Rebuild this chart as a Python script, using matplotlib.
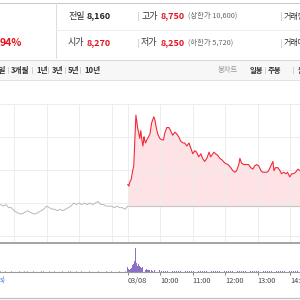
import matplotlib
matplotlib.use('Agg')
import matplotlib.pyplot as plt
from matplotlib.lines import Line2D
from matplotlib.patches import Rectangle
import numpy as np

plt.rcParams['font.family'] = ['Noto Sans CJK KR', 'DejaVu Sans']

# ---- data ----
prev_close = 8160

# previous session, 5 minute closes 11:35 .. 15:30 (minutes relative to today's 09:00)
prev_min = list(range(-235, 1, 5))
prev_price = [8170, 8160, 8170, 8150, 8150, 8130, 8120, 8110, 8110, 8120,
              8130, 8120, 8110, 8110, 8120, 8130, 8140, 8160, 8150, 8140,
              8140, 8130, 8140, 8130, 8140, 8150, 8160, 8180, 8170, 8180,
              8170, 8180, 8170, 8180, 8170, 8180, 8190, 8170, 8170, 8160,
              8160, 8160, 8150, 8160, 8150, 8150, 8140, 8160]

# today (03/08), minutes after 09:00
today_min = [0, 2, 4, 6, 7, 9, 11, 13, 15, 17,
             18, 20, 22, 24, 26, 28, 30, 31, 33, 35,
             37, 41, 44, 48, 50, 52, 55, 59, 63, 66,
             68, 72, 76, 79, 83, 87, 90, 94, 98, 102,
             105, 109, 113, 116, 120, 124, 127, 131, 135, 138,
             142, 146, 150, 153, 155, 159, 162, 166, 170, 174,
             179, 185, 190, 194, 198, 201, 205, 207, 210, 214,
             218, 223, 227, 231, 234, 238, 242, 246, 249, 253,
             257, 260, 264, 268, 270, 273, 277, 281, 284, 288,
             292, 295, 299, 303, 306, 310, 314, 318]
today_price = [8300, 8290, 8320, 8330, 8350, 8390, 8420, 8590, 8750, 8700,
               8670, 8640, 8600, 8650, 8590, 8550, 8610, 8590, 8570, 8590,
               8600, 8630, 8700, 8740, 8720, 8680, 8630, 8600, 8590, 8590,
               8630, 8670, 8670, 8650, 8620, 8640, 8630, 8610, 8580, 8570,
               8570, 8550, 8570, 8540, 8500, 8520, 8510, 8480, 8500, 8470,
               8450, 8470, 8510, 8480, 8490, 8510, 8500, 8490, 8470, 8460,
               8440, 8430, 8410, 8390, 8380, 8390, 8430, 8470, 8440, 8430,
               8430, 8430, 8410, 8400, 8420, 8430, 8420, 8390, 8380, 8380,
               8380, 8390, 8420, 8450, 8390, 8410, 8410, 8390, 8370, 8380,
               8370, 8380, 8350, 8370, 8370, 8380, 8400, 8390]

vol_prev = [3, 2, 4, 2, 3, 2, 2, 3, 2, 4, 3, 2, 3, 2, 2, 3, 4, 2, 3, 2, 3, 2, 2, 3,
            2, 4, 3, 2, 3, 2, 3, 2, 2, 3, 2, 2, 3, 2, 2, 3, 2, 3, 2, 2, 3, 2, 4, 6]
vol_min = list(range(0, 29)) + [30, 32, 34, 36, 38, 40, 43, 46, 50] + list(range(54, 319, 4))
vol_today = [20, 10, 14, 8, 18, 12, 22, 16, 28, 20, 34, 26, 40, 45, 100, 60, 38, 30, 24, 32,
             20, 26, 16, 22, 14, 18, 12, 20, 10,
             12, 9, 14, 8, 10, 7, 9, 6, 8,
             5, 7, 4, 6, 3, 5, 4, 6, 3, 4, 5, 3, 6, 4, 3, 5, 4, 3, 4, 6,
             3, 4, 3, 5, 4, 3, 4, 3, 5, 3, 4, 3, 6, 4, 3, 4, 3, 5, 3, 4,
             3, 4, 3, 5, 4, 3, 4, 3, 4, 5, 3, 4, 3, 4, 3, 5, 4, 3, 4, 3,
             4, 3, 5, 4, 3, 4, 5]

time_ticks = [0, 60, 120, 180, 240, 300]
time_labels = ["03/08", "10:00", "11:00", "12:00", "13:00", "14:00"]
grid_min = [-210, -150, -90, -30, 0, 60, 120, 180, 240, 300]
grid_price = [7966, 8179, 8393, 8607, 8821]

RED = '#e3141f'
W = 300.0


def fx(x):
    return x / W


def fy(y):
    return 1 - y / W


def hline(y, x0, x1, color, lw=0.7):
    fig.add_artist(Line2D([fx(x0), fx(x1)], [fy(y), fy(y)], color=color, lw=lw,
                          transform=fig.transFigure))


def vline(x, y0, y1, color, lw=0.7):
    fig.add_artist(Line2D([fx(x), fx(x)], [fy(y0), fy(y1)], color=color, lw=lw,
                          transform=fig.transFigure))


def txt(x, y, s, size=6.5, color='#222222', weight='normal', ha='left'):
    fig.text(fx(x), fy(y), s, fontsize=size, color=color, weight=weight,
             ha=ha, va='center')


fig = plt.figure(figsize=(3, 3), dpi=100)
fig.patch.set_facecolor('white')

# ---- header ----
hline(2.5, 0, 300, '#c8c8c8')
vline(55.5, 3, 58, '#dddddd')
hline(29.5, 56, 300, '#eeeeee')
txt(0, 43, "94%", size=7.5, color=RED, weight='bold')

txt(68, 16, "전일", color='#333333')
txt(87, 16, "8,160", weight='bold')
txt(68, 43, "시가", color='#333333')
txt(87, 43, "8,270", color=RED, weight='bold')

for yy in (16, 43):
    vline(137.5, yy - 4, yy + 4, '#d5d5d5')
    vline(280.5, yy - 4, yy + 4, '#d5d5d5')
txt(141, 16, "고가", color='#333333')
txt(161, 16, "8,750", color=RED, weight='bold')
txt(188, 16, "(상한가 10,600)", size=5.3, color='#666666')
txt(141, 43, "저가", color='#333333')
txt(161, 43, "8,250", color=RED, weight='bold')
txt(188, 43, "(하한가 5,720)", size=5.3, color='#666666')
txt(284, 16, "거래량", size=5.8, color='#333333')
txt(284, 43, "거래대금", size=5.8, color='#333333')

# ---- period / chart-type band ----
fig.add_artist(Rectangle((0, fy(80)), 1, (80 - 60) / W, transform=fig.transFigure,
                         facecolor='#f7f7f7', edgecolor='none'))
hline(60, 0, 300, '#d8d8d8')
hline(80, 0, 300, '#e2e2e2')
txt(6, 70, "1주일", size=5.5, color='#333333', weight='bold', ha='right')
for x, s in [(11, "3개월"), (36, "1년"), (52, "3년"), (68, "5년"), (84, "10년")]:
    txt(x, 70, s, size=5.5, color='#333333', weight='bold')
for x in (8, 32, 48, 65, 80):
    vline(x, 67, 73, '#d0d0d0')
txt(218, 70, "봉차트", size=5.3, color='#9a9a9a')
txt(250, 70, "일봉", size=5.3, color='#333333', weight='bold')
txt(268, 70, "주봉", size=5.3, color='#333333', weight='bold')
txt(298, 70, "월봉", size=5.3, color='#333333', weight='bold')
vline(265, 67, 73, '#d0d0d0')
vline(293, 67, 73, '#d0d0d0')

# ---- price chart ----
ax = fig.add_axes([0, fy(242), 1, (242 - 104) / W])
ax.set_facecolor('none')
ax.set_xlim(-236, 318)
ax.set_ylim(7927, 8823)
ax.set_xticks(grid_min)
ax.set_yticks(grid_price)
ax.grid(True, color='#ededed', lw=0.7)
ax.tick_params(length=0, labelbottom=False, labelleft=False)
for sp in ax.spines.values():
    sp.set_visible(False)

ax.fill_between(today_min, today_price, prev_close, color='#fde3e6', lw=0)
ax.hlines(prev_close, 0, 318, color='#c4c4c4', lw=0.8)
ax.plot(prev_min, prev_price, color='#b9b9b9', lw=0.7)
ax.plot(today_min, today_price, color='#f02a38', lw=0.8)

# ---- volume chart ----
axv = fig.add_axes([0, fy(272), 1, (272 - 243) / W])
axv.set_facecolor('none')
axv.set_xlim(-236, 318)
axv.set_ylim(0, 121)
axv.bar(prev_min, vol_prev, width=1.8, color='#bcb0dc', lw=0)
axv.bar(vol_min, vol_today, width=1.6, color='#8a70c8', lw=0)
for k in ('left', 'right'):
    axv.spines[k].set_visible(False)
axv.spines['top'].set_color('#8c8c8c')
axv.spines['top'].set_linewidth(1.1)
axv.spines['bottom'].set_color('#9a9a9a')
axv.spines['bottom'].set_linewidth(0.8)
axv.set_yticks([])
axv.set_xticks(time_ticks, labels=time_labels)
axv.tick_params(axis='x', length=2.2, width=0.7, color='#888888', pad=1.5,
                labelsize=5.3, labelcolor='#444444')
for lbl in axv.get_xticklabels():
    lbl.set_horizontalalignment('left')

txt(0, 281, "s)", size=5.3, color='#2f6fd6')
hline(298, 0, 300, '#c0c0c0', lw=0.9)

fig.savefig("out.png", dpi=100)
